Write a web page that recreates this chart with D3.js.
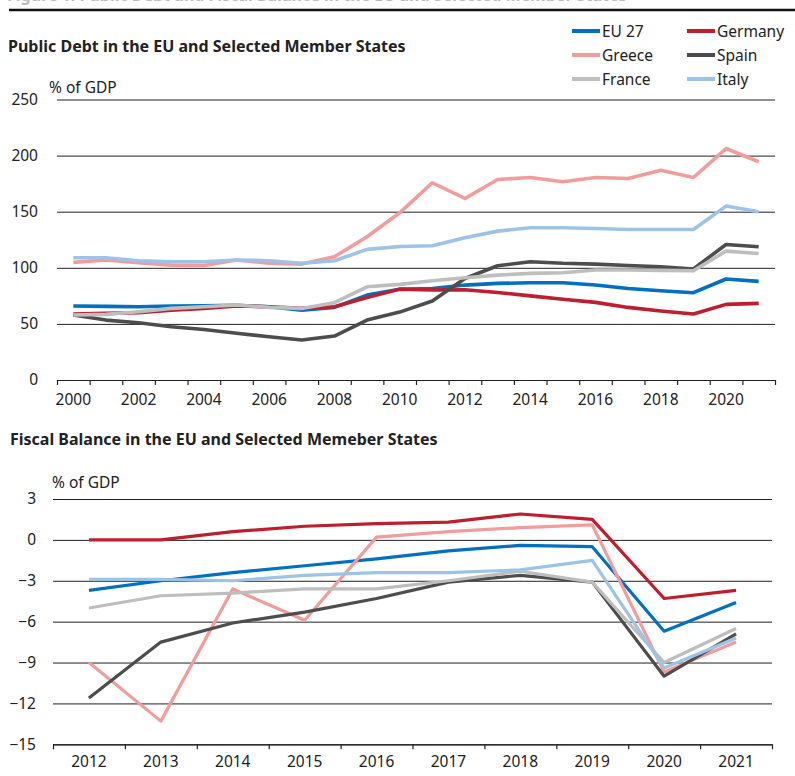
<!DOCTYPE html>
<html>
<head>
<meta charset="utf-8">
<script src="https://cdn.jsdelivr.net/npm/d3@7"></script>
<style>
  body { margin: 0; background: #fff; }
  svg text { font-family: "Noto Sans", sans-serif; fill: #222; }
</style>
</head>
<body>
<script>
// years
var debtYears = d3.range(2000, 2022)
var balYears = d3.range(2012, 2022)

// public debt, % of GDP (2000-2021)
var debtEU27   = [65.9,65.6,65.3,65.9,66.2,66.5,65.3,62.3,64.7,75.7,80.8,81.6,84.6,86.1,86.7,86.7,84.6,81.6,79.5,77.8,90.0,87.9]
var debtGermany= [58.8,59.4,60.0,62.3,63.8,66.0,65.3,63.8,65.3,73.5,81.0,80.2,80.5,78.0,75.0,72.0,69.2,64.7,61.5,58.8,67.4,68.3]
var debtGreece = [104.8,107.0,104.5,102.4,102.0,107.0,104.0,103.3,109.9,127.7,149.0,175.8,161.8,178.7,180.5,176.7,180.5,179.6,187.0,180.5,206.3,194.5]
var debtSpain  = [57.9,53.4,51.0,47.5,45.0,41.6,38.6,35.6,39.2,53.4,60.5,70.4,90.5,101.8,105.4,104.0,103.3,102.0,101.0,99.0,120.8,118.8]
var debtFrance = [57.9,58.5,60.9,63.8,65.3,66.8,64.7,63.8,68.9,83.1,85.2,88.5,91.1,93.5,95.0,95.6,98.0,98.0,97.7,97.4,114.9,112.8]
var debtItaly  = [109.0,109.0,106.3,105.4,105.4,107.0,106.3,104.0,106.3,116.4,119.0,119.6,126.8,132.7,135.7,135.7,135.0,134.2,134.2,134.2,155.0,150.0]

// fiscal balance, % of GDP (2012-2021)
var balEU27    = [-3.7,-3.0,-2.4,-1.9,-1.4,-0.8,-0.4,-0.5,-6.7,-4.6]
var balGermany = [0.0,0.0,0.6,1.0,1.2,1.3,1.9,1.5,-4.3,-3.7]
var balGreece  = [-9.0,-13.3,-3.6,-5.9,0.2,0.6,0.9,1.1,-9.7,-7.5]
var balSpain   = [-11.6,-7.5,-6.1,-5.3,-4.3,-3.1,-2.6,-3.1,-10.0,-6.9]
var balFrance  = [-5.0,-4.1,-3.9,-3.6,-3.6,-3.0,-2.3,-3.1,-9.0,-6.5]
var balItaly   = [-2.9,-2.9,-3.0,-2.6,-2.4,-2.4,-2.2,-1.5,-9.4,-7.2]

var seriesNames = ["EU 27","Germany","Greece","Spain","France","Italy"]
var seriesColors = ["#0070C0","#BE1E2D","#F29C9C","#4D4D4D","#BEBEBE","#9DC3E6"]

var debtTicks = [0,50,100,150,200,250]
var balTicks = [-15,-12,-9,-6,-3,0,3]

var svg = d3.select("body").append("svg")
            .attr("width", 795)
            .attr("height", 776)

// heading above the rule, cropped off at the top edge in the source
svg.append("text")
   .attr("x", 7).attr("y", 0.5)
   .style("font-size", "16px").style("font-weight", "bold").style("fill", "#bbb")
   .text("Figure 1: Public Debt and Fiscal Balance in the EU and Selected Member States")
svg.append("line")
   .attr("x1", 9).attr("x2", 795).attr("y1", 10).attr("y2", 10)
   .attr("stroke", "#111").attr("stroke-width", 2.5)

function drawPanel(opt){
    var g = svg.append("g")

    var width = opt.right - opt.left

    // band scale for point positions / labels, linear for tick marks at edges
    var xBand = d3.scaleBand().domain(opt.years).range([opt.left, opt.right])
    var xEdge = d3.scaleLinear()
                  .domain([opt.years[0], opt.years[opt.years.length-1] + 1])
                  .range([opt.left, opt.right])
    var yScale = d3.scaleLinear().domain(opt.yDomain).range([opt.bottom, opt.top])

    // gridlines + y labels
    var yAxis = g.append("g")
                 .attr("transform", "translate(" + opt.left + ",0)")
                 .call(d3.axisLeft(yScale).tickValues(opt.yTicks).tickSize(-width).tickPadding(opt.pad))
    yAxis.select(".domain").remove()
    yAxis.selectAll("line").attr("stroke", "#222").attr("stroke-width", 1)
    yAxis.selectAll("text").style("font-size", "15.5px").style("font-family", "'Noto Sans', sans-serif").attr("fill", "#222")

    // tick marks at year edges
    var xTicks = g.append("g")
                  .attr("transform", "translate(0," + opt.bottom + ")")
                  .call(d3.axisBottom(xEdge)
                          .tickValues(d3.range(opt.years[0], opt.years[opt.years.length-1] + 2))
                          .tickFormat("").tickSize(5).tickSizeOuter(0))
    xTicks.selectAll("line, path").attr("stroke", "#222").attr("stroke-width", 1.2)

    // year labels at band centers
    var xLabels = g.append("g")
                   .attr("transform", "translate(0," + opt.bottom + ")")
                   .call(d3.axisBottom(xBand)
                           .tickValues(opt.years.filter(function(d,i){ return i % opt.every == 0 }))
                           .tickSize(0).tickPadding(opt.xPad))
    xLabels.select(".domain").remove()
    xLabels.selectAll("text").style("font-size", "15.5px").style("font-family", "'Noto Sans', sans-serif").attr("fill", "#222")

    var line = d3.line()
                 .x(function(d,i){ return xBand(opt.years[i]) + xBand.bandwidth()/2 })
                 .y(function(d){ return yScale(d) })

    g.selectAll(".series")
     .data(opt.series)
     .enter()
     .append("path")
     .attr("class", "series")
     .attr("d", function(d){ return line(d) })
     .attr("fill", "none")
     .attr("stroke", function(d,i){ return seriesColors[i] })
     .attr("stroke-width", opt.lineWidth)
     .attr("stroke-linejoin", "round")

    // titles
    svg.append("text")
       .attr("x", opt.titleX).attr("y", opt.titleY)
       .style("font-size", "16px").style("font-weight", "bold")
       .text(opt.title)
    svg.append("text")
       .attr("x", opt.unitX).attr("y", opt.unitY)
       .style("font-size", "15.5px")
       .text("% of GDP")
}

drawPanel({
    years: debtYears,
    series: [debtEU27, debtGermany, debtGreece, debtSpain, debtFrance, debtItaly],
    left: 57, right: 775, top: 99.5, bottom: 380,
    yDomain: [0,250], yTicks: debtTicks, pad: 19, every: 2, xPad: 14,
    lineWidth: 3.6,
    title: "Public Debt in the EU and Selected Member States", titleX: 8, titleY: 52,
    unitX: 49, unitY: 93
})

drawPanel({
    years: balYears,
    series: [balEU27, balGermany, balGreece, balSpain, balFrance, balItaly],
    left: 53, right: 772, top: 499, bottom: 744.3,
    yDomain: [-15,3], yTicks: balTicks, pad: 17, every: 1, xPad: 12,
    lineWidth: 3.2,
    title: "Fiscal Balance in the EU and Selected Memeber States", titleX: 10, titleY: 445,
    unitX: 52, unitY: 488
})

// legend, 3 rows x 2 columns
var legend = svg.append("g")
var legendX = [572, 687]
var legendY = [31, 55, 79]
seriesNames.forEach(function(name, i){
    var col = i % 2, row = Math.floor(i / 2)
    legend.append("line")
          .attr("x1", legendX[col]).attr("x2", legendX[col] + 28)
          .attr("y1", legendY[row]).attr("y2", legendY[row])
          .attr("stroke", seriesColors[i]).attr("stroke-width", 4)
    legend.append("text")
          .attr("x", legendX[col] + 30).attr("y", legendY[row] + 5.5)
          .style("font-size", "15.5px")
          .text(name)
})
</script>
</body>
</html>
